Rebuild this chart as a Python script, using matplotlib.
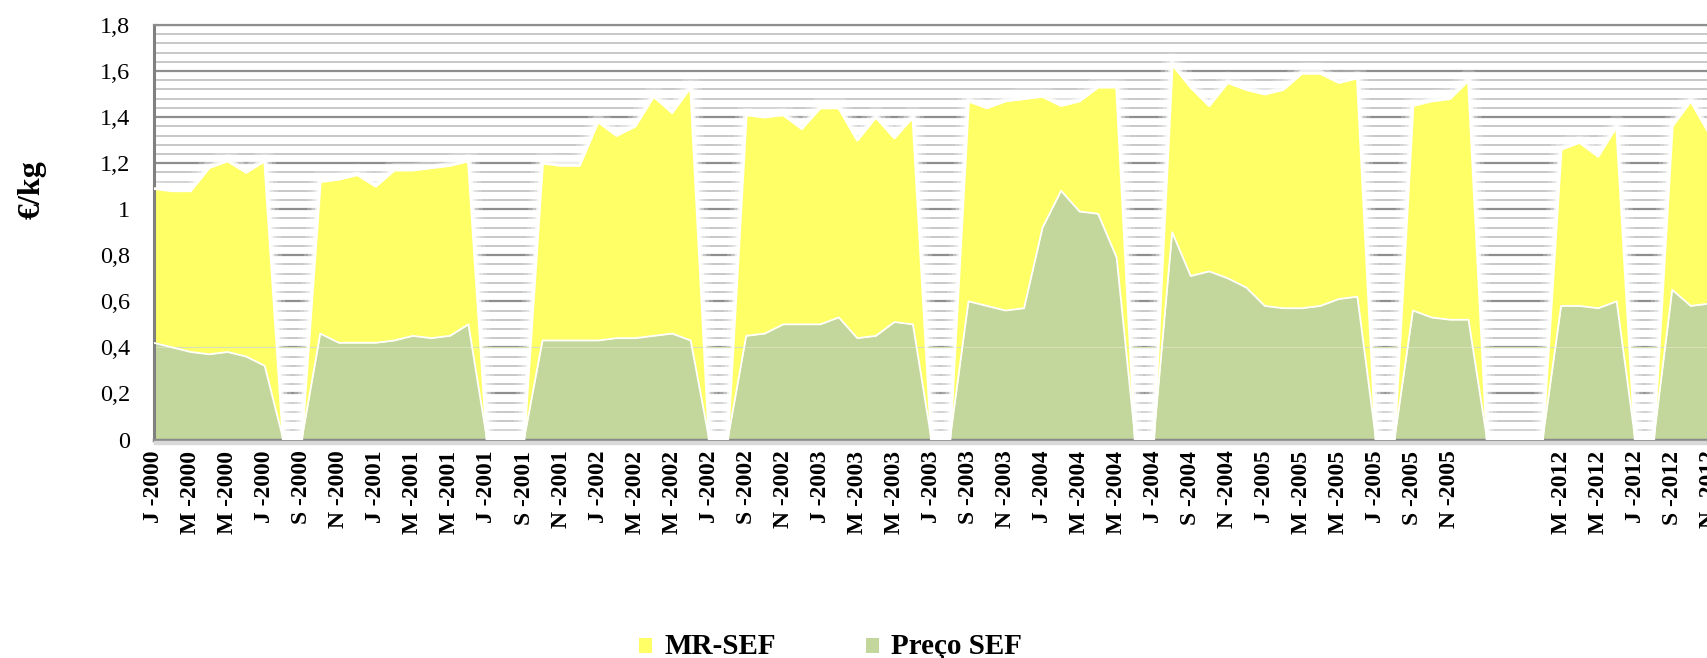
import numpy as np
import matplotlib
matplotlib.use("Agg")
import matplotlib.pyplot as plt
from matplotlib.patches import Rectangle

# ---- data -------------------------------------------------------------
month_letters = ["J", "F", "M", "A", "M", "J", "J", "A", "S", "O", "N", "D"]
years_first = [2000, 2001, 2002, 2003, 2004, 2005]
gap_count = 4            # empty categories between 2005 and 2012
months_2012 = ["M", "A", "M", "J", "J", "A", "S", "O", "N", "D"]

# Preço SEF (green, bottom layer), €/kg
preco_sef = [
    0.42, 0.40, 0.38, 0.37, 0.38, 0.36, 0.32, 0.00, 0.00, 0.46, 0.42, 0.42,   # 2000
    0.42, 0.43, 0.45, 0.44, 0.45, 0.50, 0.00, 0.00, 0.00, 0.43, 0.43, 0.43,   # 2001
    0.43, 0.44, 0.44, 0.45, 0.46, 0.43, 0.00, 0.00, 0.45, 0.46, 0.50, 0.50,   # 2002
    0.50, 0.53, 0.44, 0.45, 0.51, 0.50, 0.00, 0.00, 0.60, 0.58, 0.56, 0.57,   # 2003
    0.92, 1.08, 0.99, 0.98, 0.79, 0.00, 0.00, 0.90, 0.71, 0.73, 0.70, 0.66,   # 2004
    0.58, 0.57, 0.57, 0.58, 0.61, 0.62, 0.00, 0.00, 0.56, 0.53, 0.52, 0.52,   # 2005
    0.00, 0.00, 0.00, 0.00,                                                   # gap
    0.58, 0.58, 0.57, 0.60, 0.00, 0.00, 0.65, 0.58, 0.59,                     # 2012
]
# MR-SEF (yellow, stacked on top), €/kg
mr_sef = [
    0.67, 0.68, 0.70, 0.81, 0.83, 0.80, 0.89, 0.00, 0.00, 0.66, 0.71, 0.73,
    0.68, 0.74, 0.72, 0.74, 0.74, 0.71, 0.00, 0.00, 0.00, 0.77, 0.76, 0.76,
    0.95, 0.88, 0.92, 1.04, 0.96, 1.10, 0.00, 0.00, 0.96, 0.94, 0.91, 0.85,
    0.94, 0.91, 0.86, 0.95, 0.80, 0.90, 0.00, 0.00, 0.87, 0.86, 0.91, 0.91,
    0.57, 0.37, 0.48, 0.55, 0.74, 0.00, 0.00, 0.73, 0.82, 0.72, 0.85, 0.86,
    0.92, 0.95, 1.02, 1.01, 0.94, 0.95, 0.00, 0.00, 0.89, 0.94, 0.96, 1.04,
    0.00, 0.00, 0.00, 0.00,
    0.68, 0.71, 0.66, 0.76, 0.00, 0.00, 0.71, 0.89, 0.74,
]
series_names = ["MR-SEF", "Preço SEF"]
y_ticks = [0, 0.2, 0.4, 0.6, 0.8, 1.0, 1.2, 1.4, 1.6, 1.8]
y_tick_labels = ["0", "0,2", "0,4", "0,6", "0,8", "1", "1,2", "1,4", "1,6", "1,8"]

categories = [f"{m} -{y}" for y in years_first for m in month_letters]
categories += [""] * gap_count
categories += [f"{m} -2012" for m in months_2012]

# ---- style --------------------------------------------------------------
GREEN = "#C3D69B"
YELLOW = "#FFFF66"
plt.rcParams["font.family"] = ["Liberation Serif", "DejaVu Serif"]

W, H = 1708, 658
fig = plt.figure(figsize=(W / 100, H / 100), dpi=100)
left_px, top_px, bottom_px = 153.6, 25.0, 439.5
step_px = 18.52
n_slots = 85
ax = fig.add_axes([left_px / W, (H - bottom_px) / H,
                   n_slots * step_px / W, (bottom_px - top_px) / H])

x = np.arange(len(preco_sef))
green = np.array(preco_sef)
total = green + np.array(mr_sef)

# grid: minor every 0.04, major every 0.2
for v in np.arange(0, 1.8001, 0.04):
    major = abs(v / 0.2 - round(v / 0.2)) < 1e-6
    ax.axhline(v, color="#8E8E8E" if major else "#C4C4C4",
               lw=1.6 if major else 1.3, zorder=0.5)

# soft white glow around the areas
for lw, a in [(16, 0.22), (10, 0.35), (5, 0.7)]:
    ax.plot(x, total, color="white", lw=lw, alpha=a, zorder=1,
            solid_joinstyle="round", solid_capstyle="round")

ax.fill_between(x, 0, green, color=GREEN, lw=0, zorder=2, label=series_names[1])
ax.fill_between(x, green, total, color=YELLOW, lw=0, zorder=2, label=series_names[0])
ax.plot(x, green, color="white", lw=1.3, zorder=3)
ax.plot(x, total, color="white", lw=2.0, zorder=3)
ax.axhline(0.4, color="#D6E3B8", lw=0.8, zorder=2.5)

ax.set_xlim(0, n_slots)
ax.set_ylim(0, 1.8)

ax.set_yticks(y_ticks)
ax.set_yticklabels(y_tick_labels, fontsize=17.5)
ax.tick_params(axis="y", length=0, pad=17)

tick_pos = x[::2]
ax.set_xticks(tick_pos)
ax.set_xticklabels([categories[i] for i in tick_pos], rotation=90,
                   fontsize=17, fontweight="bold", va="top", ha="center")
ax.tick_params(axis="x", length=0, pad=8)

ax.spines["right"].set_visible(False)
ax.spines["top"].set_color("#8E8E8E")
ax.spines["top"].set_linewidth(1.6)
ax.spines["left"].set_color("#808080")
ax.spines["left"].set_linewidth(2.2)
ax.spines["bottom"].set_color("#8A8A8A")
ax.spines["bottom"].set_linewidth(2.5)

# light shadow under the bottom axis
fig.patches.append(Rectangle((left_px / W, (H - bottom_px - 4.5) / H),
                             n_slots * step_px / W, 3 / H,
                             transform=fig.transFigure, color="#D9D9D9", zorder=0))

fig.text(32 / W, 1 - 190 / H, "€/kg", rotation=90, fontsize=23,
         fontweight="bold", ha="center", va="center")

# legend
leg_y = 1 - 646 / H
for (xs, xt, col, name) in [(639, 665, YELLOW, series_names[0]),
                            (866, 891, GREEN, series_names[1])]:
    fig.patches.append(Rectangle((xs / W, (H - 653) / H), 13 / W, 15 / H,
                                 transform=fig.transFigure, color=col, lw=0))
    fig.text(xt / W, leg_y, name, fontsize=21, fontweight="bold",
             ha="left", va="center")

fig.savefig("out.png", dpi=100)
